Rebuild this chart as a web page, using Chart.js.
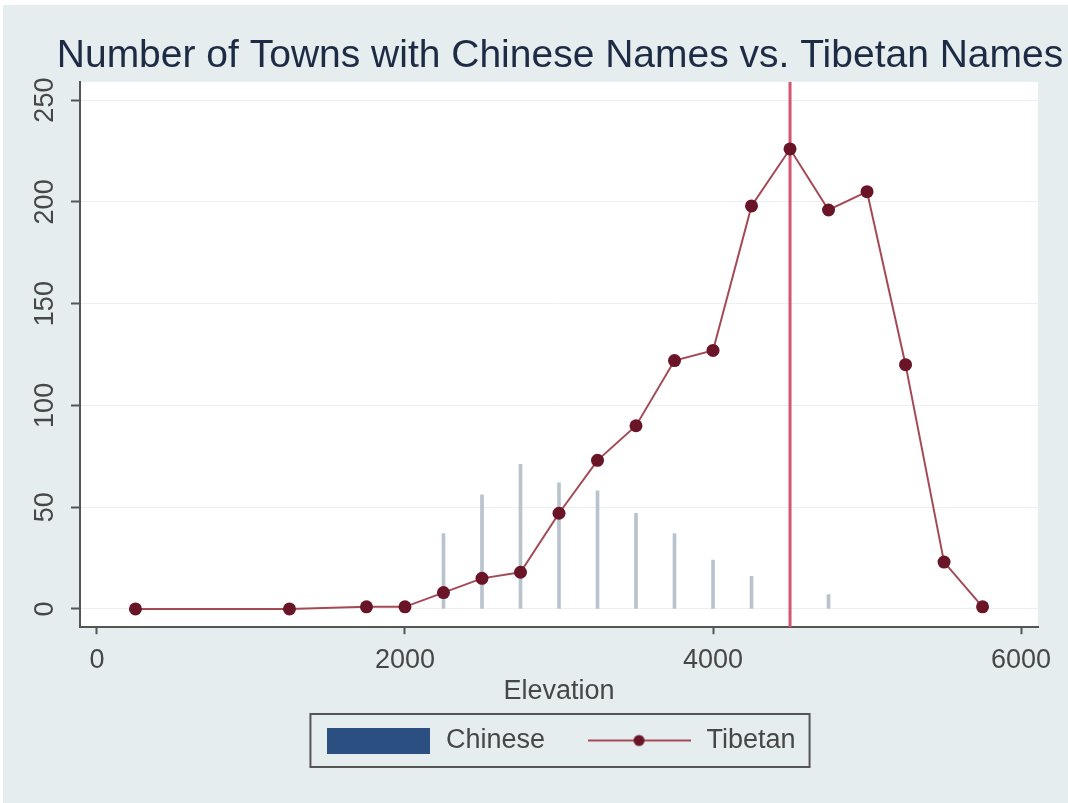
<!DOCTYPE html>
<html>
<head>
<meta charset="utf-8">
<script src="https://cdn.jsdelivr.net/npm/chart.js@4.4.0/dist/chart.umd.min.js"></script>
<style>
  html, body { margin: 0; padding: 0; width: 1068px; height: 803px; overflow: hidden; background: #fff; }
  #wrap { position: absolute; left: 0; top: 0; width: 1120px; height: 803px; }
</style>
</head>
<body>
<div id="wrap"><canvas id="townsChart" width="1120" height="803"></canvas></div>
<script>
// Données
const tibetanElevations = [250, 1250, 1750, 2000, 2250, 2500, 2750, 3000, 3250, 3500, 3750, 4000, 4250, 4500, 4750, 5000, 5250, 5500, 5750];
const tibetanCounts = [0, 0, 1, 1, 8, 15, 18, 47, 73, 90, 122, 127, 198, 226, 196, 205, 120, 23, 1];
const chineseElevations = [2250, 2500, 2750, 3000, 3250, 3500, 3750, 4000, 4250, 4750];
const chineseCounts = [37, 56, 71, 62, 58, 47, 37, 24, 16, 7];
const xTickValues = [0, 2000, 4000, 6000];
const yTickValues = [0, 50, 100, 150, 200, 250];
const peakElevation = 4500;

const xMin = -110, xMax = 6110;
const yMin = -9, yMax = 259;

const FONT = '"Liberation Sans", Arial, sans-serif';
const TEXT_GREY = '#474747';
const AXIS_GREY = '#555555';

// Symboles de la légende (barre pleine, ligne avec point)
function makeSwatch(color) {
    const c = document.createElement('canvas');
    c.width = 103; c.height = 26;
    const g = c.getContext('2d');
    g.fillStyle = color;
    g.fillRect(0, 0, c.width, c.height);
    return c;
}

function makeLineMarker(lineColor, dotColor) {
    const c = document.createElement('canvas');
    c.width = 103; c.height = 14;
    const g = c.getContext('2d');
    g.strokeStyle = lineColor;
    g.lineWidth = 2;
    g.beginPath();
    g.moveTo(0, 7);
    g.lineTo(c.width, 7);
    g.stroke();
    g.fillStyle = dotColor;
    g.beginPath();
    g.arc(c.width / 2, 7, 5.5, 0, Math.PI * 2);
    g.fill();
    return c;
}

const chineseSwatch = makeSwatch('#2b4f80');
const tibetanSwatch = makeLineMarker('#a44a55', '#6a1428');

const backgroundPlugin = {
    id: 'stataBackground',
    beforeDraw(chart) {
        const ctx = chart.ctx;
        const a = chart.chartArea;
        ctx.save();
        ctx.fillStyle = '#ffffff';
        ctx.fillRect(0, 0, chart.width, chart.height);
        ctx.fillStyle = '#e5edef';
        ctx.fillRect(3, 5, chart.width - 3, chart.height - 5);
        ctx.fillStyle = '#ffffff';
        ctx.fillRect(a.left, a.top, a.right - a.left, a.bottom - a.top);
        ctx.restore();
    }
};

const legendBoxPlugin = {
    id: 'legendBox',
    afterDraw(chart) {
        const boxes = chart.legend && chart.legend.legendHitBoxes;
        if (!boxes || !boxes.length) return;
        const left = Math.min(...boxes.map(b => b.left)) - 14;
        const right = Math.max(...boxes.map(b => b.left + b.width)) + 14;
        const top = Math.min(...boxes.map(b => b.top)) - 13;
        const bottom = Math.max(...boxes.map(b => b.top + b.height)) + 13;
        const ctx = chart.ctx;
        ctx.save();
        ctx.fillStyle = '#ffffff';
        ctx.globalCompositeOperation = 'destination-over';
        ctx.fillRect(left, top, right - left, bottom - top);
        ctx.globalCompositeOperation = 'source-over';
        ctx.strokeStyle = AXIS_GREY;
        ctx.lineWidth = 2;
        ctx.strokeRect(left, top, right - left, bottom - top);
        ctx.restore();
    }
};

const townsChart = new Chart(document.getElementById('townsChart'), {
    data: {
        datasets: [{
            type: 'line',
            label: 'Tibetan',
            data: tibetanElevations.map((x, i) => ({ x: x, y: tibetanCounts[i] })),
            borderColor: '#a44a55',
            borderWidth: 2,
            pointRadius: 6.5,
            pointBackgroundColor: '#6a1428',
            pointBorderWidth: 0,
            tension: 0,
            order: 0
        }, {
            type: 'line',
            label: 'peak',
            data: [{ x: peakElevation, y: yMin }, { x: peakElevation, y: yMax }],
            borderColor: '#d4556f',
            borderWidth: 3,
            pointRadius: 0,
            order: 1
        }, {
            type: 'bar',
            label: 'Chinese',
            data: chineseElevations.map((x, i) => ({ x: x, y: chineseCounts[i] })),
            backgroundColor: '#b9c3cd',
            barThickness: 3,
            order: 2
        }]
    },
    options: {
        responsive: false,
        animation: false,
        layout: { padding: { left: 0, right: 0, top: 0, bottom: 39 } },
        plugins: {
            tooltip: { enabled: false },
            title: {
                display: true,
                text: 'Number of Towns with Chinese Names vs. Tibetan Names',
                color: '#1d2b44',
                font: { family: FONT, size: 39, weight: 'normal' },
                padding: { top: 33, bottom: 2 }
            },
            legend: {
                position: 'bottom',
                labels: {
                    usePointStyle: true,
                    pointStyleWidth: 108,
                    boxHeight: 27,
                    padding: 40,
                    color: TEXT_GREY,
                    font: { family: FONT, size: 27 },
                    generateLabels: () => [
                        { text: 'Chinese', pointStyle: chineseSwatch, fillStyle: '#2b4f80', strokeStyle: '#2b4f80', lineWidth: 0, fontColor: TEXT_GREY, datasetIndex: 2 },
                        { text: 'Tibetan', pointStyle: tibetanSwatch, fillStyle: '#6a1428', strokeStyle: '#6a1428', lineWidth: 0, fontColor: TEXT_GREY, datasetIndex: 0 }
                    ]
                }
            }
        },
        scales: {
            x: {
                type: 'linear',
                min: xMin,
                max: xMax,
                offset: false,
                afterBuildTicks: scale => { scale.ticks = xTickValues.map(v => ({ value: v })); },
                grid: { offset: false, drawOnChartArea: false, drawTicks: true, tickLength: 7, tickColor: AXIS_GREY, tickWidth: 2 },
                border: { color: AXIS_GREY, width: 2 },
                ticks: { color: TEXT_GREY, font: { family: FONT, size: 27 }, padding: 10, maxRotation: 0, callback: v => String(v) },
                title: { display: true, text: 'Elevation', color: TEXT_GREY, font: { family: FONT, size: 27 }, padding: { top: -11, bottom: -21 } }
            },
            y: {
                type: 'linear',
                min: yMin,
                max: yMax,
                afterBuildTicks: scale => { scale.ticks = yTickValues.map(v => ({ value: v })); },
                afterFit: scale => { scale.width = 80; },
                grid: { color: '#edf0f2', lineWidth: 1, tickLength: 9, tickColor: AXIS_GREY, tickWidth: 2 },
                border: { color: AXIS_GREY, width: 2 },
                ticks: { color: TEXT_GREY, font: { family: FONT, size: 27 }, minRotation: 90, maxRotation: 90, crossAlign: 'center', padding: 3 }
            },
            // axe vide à droite : réserve la marge droite de la zone de tracé
            yRight: {
                type: 'linear',
                position: 'right',
                display: true,
                afterFit: scale => { scale.width = 82; },
                grid: { display: false },
                border: { display: false },
                ticks: { display: false }
            }
        }
    },
    plugins: [backgroundPlugin, legendBoxPlugin]
});
</script>
</body>
</html>
